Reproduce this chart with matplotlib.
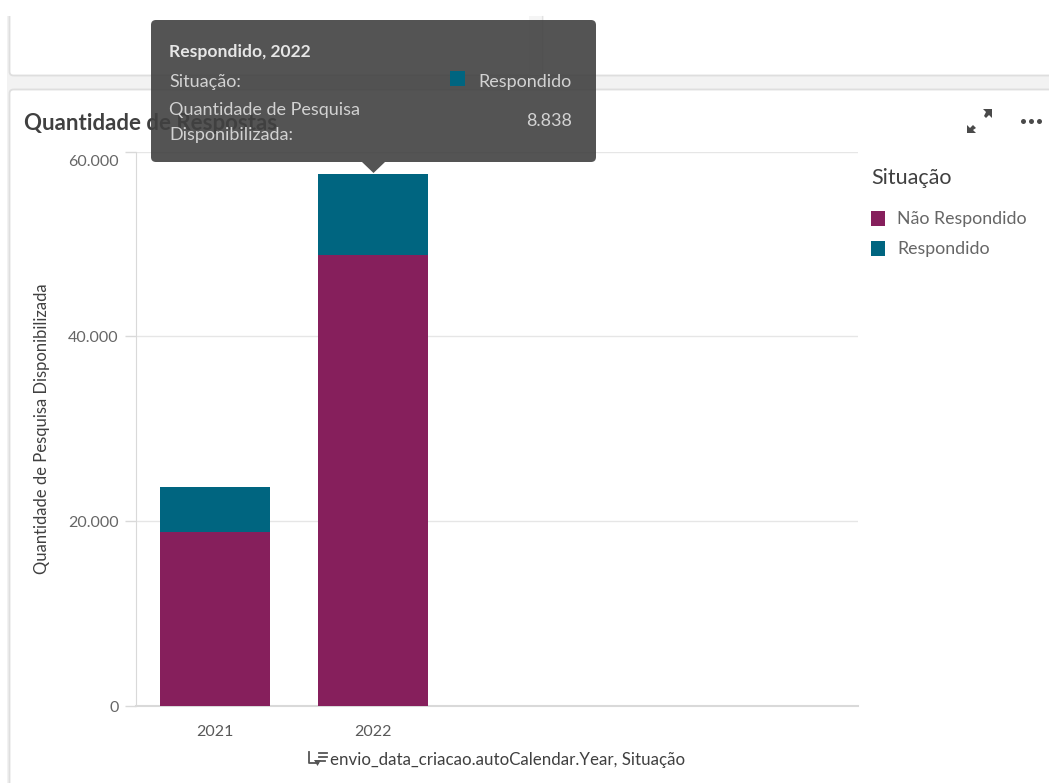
import matplotlib.pyplot as plt
from matplotlib.patches import FancyBboxPatch, Polygon, Rectangle
from matplotlib.transforms import ScaledTranslation

plt.rcParams['font.family'] = ['Lato', 'DejaVu Sans']

# Survey counts per year
anos = ['2021', '2022']
nao_respondido = [18800, 48780]
respondido = [4870, 8838]
ticks_y = [0, 20000, 40000, 60000]
labels_y = ['0', '20.000', '40.000', '60.000']

COR_NAO = '#861f5c'
COR_RESP = '#006580'
W, H = 1049, 783

fig = plt.figure(figsize=(W / 100, H / 100), dpi=100, facecolor='white')

# Overlay in pixel units for the page furniture around the chart
fundo = fig.add_axes([0, 0, 1, 1], zorder=0)
fundo.set_xlim(0, W)
fundo.set_ylim(H, 0)
fundo.axis('off')
fundo.add_patch(Rectangle((7, 16), W, H, color='#f2f2f2', lw=0))
fundo.add_patch(FancyBboxPatch((9.5, -20), W + 40, 95.5, boxstyle='round,pad=0,rounding_size=4',
                               fc='white', ec='#dedede', lw=1.3))
fundo.add_patch(FancyBboxPatch((9.5, 89.5), W + 40, H, boxstyle='round,pad=0,rounding_size=4',
                               fc='white', ec='#dedede', lw=1.3))
fundo.add_patch(Rectangle((0, 0), W, 16, color='white', lw=0))
fundo.add_patch(Rectangle((529, 16), 15, 59, fc='#f5f5f5', ec='none'))
fundo.plot([542, 542], [16, 75], color='#e2e2e2', lw=0.8)
fundo.text(24, 124, 'Quantidade de Respostas', fontsize=16, fontweight='bold',
           color='#404040', va='center', ha='left')

# Stacked bars
ax = fig.add_axes([135.5 / W, 1 - 706 / H, (858 - 135.5) / W, (706 - 151.5) / H], zorder=1)
ax.patch.set_alpha(0)
x = range(len(anos))
ax.bar(x, nao_respondido, width=0.696, color=COR_NAO, zorder=3)
ax.bar(x, respondido, width=0.696, bottom=nao_respondido, color=COR_RESP, zorder=3)
ax.set_xlim(-0.503, 4.07)
ax.set_ylim(0, 60000)
ax.set_xticks(list(x), anos)
ax.set_yticks(ticks_y, labels_y)
ax.grid(axis='y', color='#e6e6e6', lw=1, zorder=0)
ax.tick_params(axis='x', length=0, pad=14, labelsize=11.5, labelcolor='#595959')
ax.tick_params(axis='y', length=8, width=1, color='#d9d9d9', pad=4, labelsize=11.5, labelcolor='#666666')

# Top label sits just below its gridline
ultimo = ax.get_yticklabels()[-1]
ultimo.set_verticalalignment('top')
ultimo.set_transform(ultimo.get_transform() + ScaledTranslation(0, -4 / 100, fig.dpi_scale_trans))

for lado in ['top', 'right']:
    ax.spines[lado].set_visible(False)
ax.spines['left'].set_color('#d9d9d9')
ax.spines['bottom'].set_color('#d9d9d9')
ax.spines['bottom'].set_linewidth(1.5)
ax.set_ylabel('Quantidade de Pesquisa Disponibilizada', fontsize=12, color='#404040')
ax.yaxis.set_label_coords((50 - 135.5) / (858 - 135.5), 0.5)

# Legend, axis title, icons and tooltip
topo = fig.add_axes([0, 0, 1, 1], zorder=2)
topo.set_xlim(0, W)
topo.set_ylim(H, 0)
topo.axis('off')
topo.patch.set_alpha(0)

topo.text(871, 178, 'Situação', fontsize=15.5, color='#404040', va='center')
for y, cor, nome in [(218, COR_NAO, 'Não Respondido'), (248, COR_RESP, 'Respondido')]:
    topo.add_patch(Rectangle((871, y - 7.5), 14, 15, color=cor, lw=0))
    topo.text(897, y + 1, nome, fontsize=12.8, color='#666666', va='center')

topo.text(330, 760, 'envio_data_criacao.autoCalendar.Year, Situação', fontsize=12.2,
          color='#404040', va='center')
# Sort icon beside the axis title
topo.plot([309, 309, 318], [752, 763, 763], color='#555555', lw=1.3)
topo.add_patch(Polygon([[314, 760], [321, 760], [317.5, 766]], color='#555555', lw=0))
for y, x2 in [(753, 327), (757, 327), (761, 325)]:
    topo.plot([319, x2], [y, y], color='#555555', lw=1.3)

# Expand icon and menu dots
topo.add_patch(Polygon([[983, 109], [992, 109], [992, 118], [989, 115], [986, 118], [984, 116], [986, 112]],
                       color='#4a4a4a', lw=0))
topo.add_patch(Polygon([[967, 125], [970, 128], [973, 125], [976, 128], [973, 130], [976, 133], [967, 133]],
                       color='#4a4a4a', lw=0))
topo.plot([1023, 1031, 1039], [121, 121, 121], ls='none', marker='o', ms=3.6, mew=0, color='#4a4a4a')

# Tooltip is slightly see-through, the panel title shows under it
topo.add_patch(FancyBboxPatch((151, 20), 445, 142, boxstyle='round,pad=0,rounding_size=5',
                              fc='#414141', ec='none', alpha=0.9))
topo.add_patch(Polygon([[362, 162], [385, 162], [373.5, 173]], fc='#414141', ec='none', alpha=0.9))
topo.text(169, 52, 'Respondido, 2022', fontsize=12.6, fontweight='bold', color='#e6e6e6', va='center')
topo.text(169, 82, 'Situação:', fontsize=13, color='#d2d2d2', va='center')
topo.add_patch(Rectangle((450, 71), 15, 15, color=COR_RESP, lw=0))
topo.text(572, 82, 'Respondido', fontsize=13, color='#d2d2d2', va='center', ha='right')
topo.text(169, 110, 'Quantidade de Pesquisa', fontsize=13, color='#d2d2d2', va='center')
topo.text(169, 135, 'Disponibilizada:', fontsize=13, color='#d2d2d2', va='center')
topo.text(572, 121, '8.838', fontsize=13, color='#d2d2d2', va='center', ha='right')

fig.savefig('out.png', dpi=100)
